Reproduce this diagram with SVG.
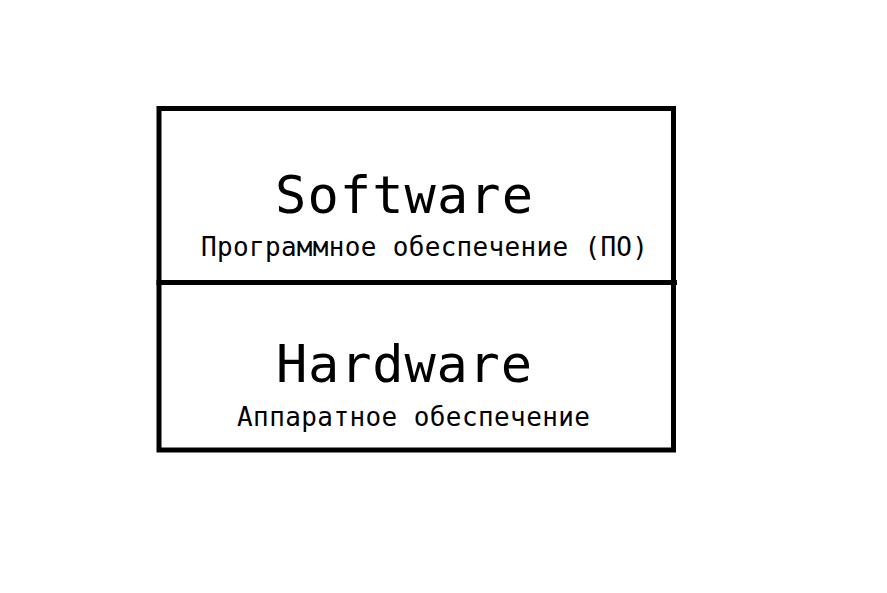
<svg xmlns="http://www.w3.org/2000/svg" width="887" height="593" viewBox="0 0 887 593">
<style>
.box{fill:none;stroke:#000;stroke-width:5}
.t{font-family:"DejaVu Sans Mono","Liberation Mono",monospace;fill:#000}
.big{font-size:52px}
.sub{font-size:26px}
</style>
<rect x="0" y="0" width="887" height="593" fill="#fff"/>
<g id="software">
<rect class="box" x="159" y="108.5" width="514.5" height="174"/>
<text class="t big" x="275" y="213" textLength="258" lengthAdjust="spacing">Software</text>
<text class="t sub" x="201" y="256" textLength="447" lengthAdjust="spacing">Программное обеспечение (ПО)</text>
</g>
<g id="hardware">
<rect class="box" x="159" y="282.5" width="514.5" height="167.5"/>
<text class="t big" x="276" y="382" textLength="256" lengthAdjust="spacing">Hardware</text>
<text class="t sub" x="237" y="426" textLength="353" lengthAdjust="spacing">Аппаратное обеспечение</text>
</g>
<g id="connectors">
<line x1="673" y1="282.5" x2="677" y2="282.5" stroke="#000" stroke-width="5"/>
</g>
</svg>
